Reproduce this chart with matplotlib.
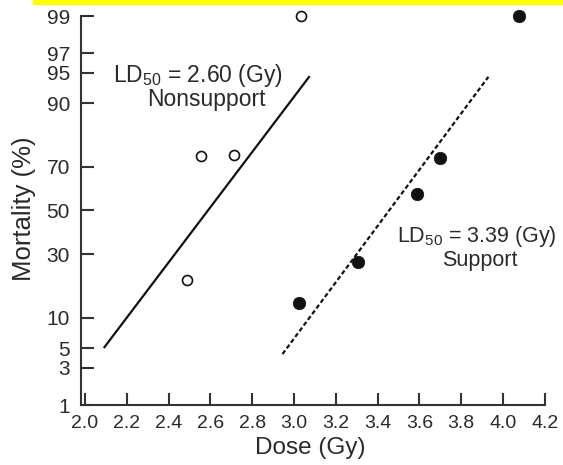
import numpy as np
import matplotlib
matplotlib.use("Agg")
import matplotlib.pyplot as plt
from statistics import NormalDist

plt.rcParams['font.family'] = ['Liberation Sans', 'DejaVu Sans']
plt.rcParams['mathtext.fontset'] = 'custom'
plt.rcParams['mathtext.rm'] = 'Liberation Sans'

# ---- data ----
nonsupport_dose = [2.49, 2.555, 2.715, 3.035]
nonsupport_mort = [20.3, 74.3, 74.6, 99.0]
support_dose = [3.025, 3.305, 3.59, 3.70, 4.075]
support_mort = [13.3, 26.9, 57.7, 73.5, 99.0]
nonsupport_fit_dose = [2.09, 3.075]
nonsupport_fit_mort = [5.0, 94.6]
support_fit_dose = [2.945, 3.93]
support_fit_mort = [4.3, 94.5]
y_ticks = [1, 3, 5, 10, 30, 50, 70, 90, 95, 97, 99]
x_ticks = [2.0, 2.2, 2.4, 2.6, 2.8, 3.0, 3.2, 3.4, 3.6, 3.8, 4.0, 4.2]

_nd = NormalDist()
_ppf = np.vectorize(lambda p: _nd.inv_cdf(min(max(p / 100.0, 1e-9), 1 - 1e-9)),
                    otypes=[float])
_cdf = np.vectorize(lambda z: 100.0 * _nd.cdf(z), otypes=[float])


def forward(p):
    return _ppf(np.asarray(p, dtype=float))


def inverse(z):
    return _cdf(np.asarray(z, dtype=float))


W, H = 563, 465
fig = plt.figure(figsize=(W / 100, H / 100), dpi=100)
fig.patches.append(plt.Rectangle((33 / W, 1 - 4 / H), 1, 4 / H,
                                 transform=fig.transFigure, color='#ffff00', zorder=0))
ax = fig.add_axes([81 / W, 60 / H, 463.8 / W, 389 / H])
ax.set_yscale('function', functions=(forward, inverse))
ax.set_ylim(1, 99)
ax.set_xlim(1.981, 4.2)

txtc = '#2a2a2a'
ax.plot(nonsupport_fit_dose, nonsupport_fit_mort, color='#111111', lw=1.6,
        solid_capstyle='butt')
ax.plot(support_fit_dose, support_fit_mort, color='#111111', lw=1.6,
        linestyle=(0, (2.0, 1.2)))
ax.plot(nonsupport_dose, nonsupport_mort, 'o', ms=7.2, mfc='white', mec='#111111',
        mew=1.2, clip_on=False, zorder=3)
ax.plot(support_dose, support_mort, 'o', ms=9, mfc='#111111', mec='#111111',
        mew=0.5, clip_on=False, zorder=3)

ax.set_yticks(y_ticks)
ax.set_yticklabels([str(t) for t in y_ticks])
ax.set_xticks(x_ticks)
ax.set_xticklabels([f'{t:.1f}' for t in x_ticks])
ax.yaxis.set_minor_locator(matplotlib.ticker.NullLocator())
ax.xaxis.set_minor_locator(matplotlib.ticker.NullLocator())

for s in ['top', 'right']:
    ax.spines[s].set_visible(False)
for s in ['left', 'bottom']:
    ax.spines[s].set_linewidth(1.5)
    ax.spines[s].set_color('#333333')
ax.tick_params(axis='both', direction='in', length=9, width=1.5, color='#333333')
ax.tick_params(axis='y', labelsize=15, pad=8, labelcolor=txtc)
ax.tick_params(axis='x', labelsize=14, pad=7, labelcolor=txtc)

ax.set_xlabel('Dose (Gy)', fontsize=17.5, color=txtc)
ax.set_ylabel('Mortality (%)', fontsize=18.5, color=txtc)
ax.xaxis.set_label_coords(0.495, -0.083)
ax.yaxis.set_label_coords(-0.097, 0.505)

fs = 16.5
ax.text(2.541, float(inverse(1.539)), r'LD$_\mathregular{50}$ = 2.60 (Gy)', ha='center',
        va='baseline', fontsize=fs, color=txtc)
ax.text(2.579, float(inverse(1.254)), 'Nonsupport', ha='center', va='baseline',
        fontsize=fs, color=txtc)
ax.text(3.875, float(inverse(-0.375)), r'LD$_\mathregular{50}$ = 3.39 (Gy)', ha='center',
        va='baseline', fontsize=15.5, color=txtc, clip_on=False)
ax.text(3.89, float(inverse(-0.66)), 'Support', ha='center', va='baseline',
        fontsize=15.5, color=txtc)

fig.savefig('out.png', dpi=100)
